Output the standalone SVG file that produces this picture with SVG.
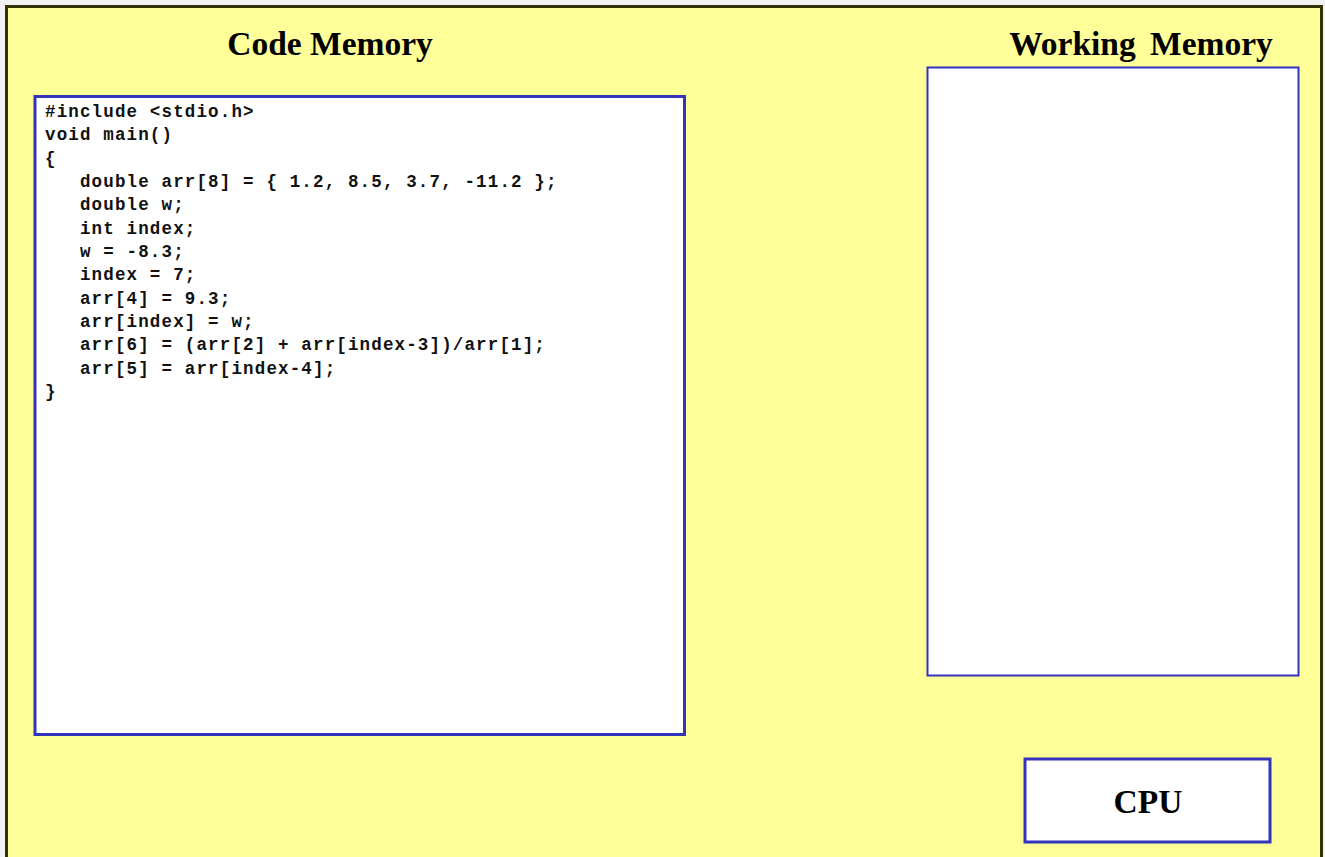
<svg xmlns="http://www.w3.org/2000/svg" width="1325" height="857" viewBox="0 0 1325 857">
  <style>
    .title { font-family: "Liberation Serif", "Times New Roman", serif; font-weight: bold; font-size: 33.5px; fill: #000; }
    .box { fill: #ffffff; stroke: #3333bb; }
    .code { font-family: "Liberation Mono", "Courier New", monospace; font-weight: bold; font-size: 17.5px; letter-spacing: 1.15px; fill: #111; white-space: pre; }
  </style>
  <!-- page background -->
  <rect x="0" y="0" width="1325" height="857" fill="#f2f2f2"/>
  <rect id="frame" x="6.5" y="6.5" width="1315" height="860" fill="#ffff99" stroke="#333300" stroke-width="3"/>

  <g id="code-memory">
    <text class="title" x="330" y="55" text-anchor="middle">Code Memory</text>
    <rect class="box" x="35" y="96.5" width="649.5" height="638" stroke-width="3"/>
    <text class="code" xml:space="preserve">
      <tspan x="45" y="117">#include &lt;stdio.h&gt;</tspan>
      <tspan x="45" y="140.3">void main()</tspan>
      <tspan x="45" y="163.6">{</tspan>
      <tspan x="45" y="187">   double arr[8] = { 1.2, 8.5, 3.7, -11.2 };</tspan>
      <tspan x="45" y="210.3">   double w;</tspan>
      <tspan x="45" y="233.6">   int index;</tspan>
      <tspan x="45" y="257">   w = -8.3;</tspan>
      <tspan x="45" y="280.3">   index = 7;</tspan>
      <tspan x="45" y="303.6">   arr[4] = 9.3;</tspan>
      <tspan x="45" y="327">   arr[index] = w;</tspan>
      <tspan x="45" y="350.3">   arr[6] = (arr[2] + arr[index-3])/arr[1];</tspan>
      <tspan x="45" y="373.6">   arr[5] = arr[index-4];</tspan>
      <tspan x="45" y="397">}</tspan>
    </text>
  </g>

  <g id="working-memory">
    <text class="title" x="1141" y="55" text-anchor="middle" word-spacing="6">Working Memory</text>
    <rect class="box" x="927.5" y="67.5" width="371" height="608" stroke-width="2"/>
  </g>

  <g id="cpu">
    <rect class="box" x="1025" y="759" width="245" height="83" stroke-width="3" stroke="#333399"/>
    <text class="title" x="1148" y="813" text-anchor="middle">CPU</text>
  </g>

  <g id="connectors"/>
</svg>
